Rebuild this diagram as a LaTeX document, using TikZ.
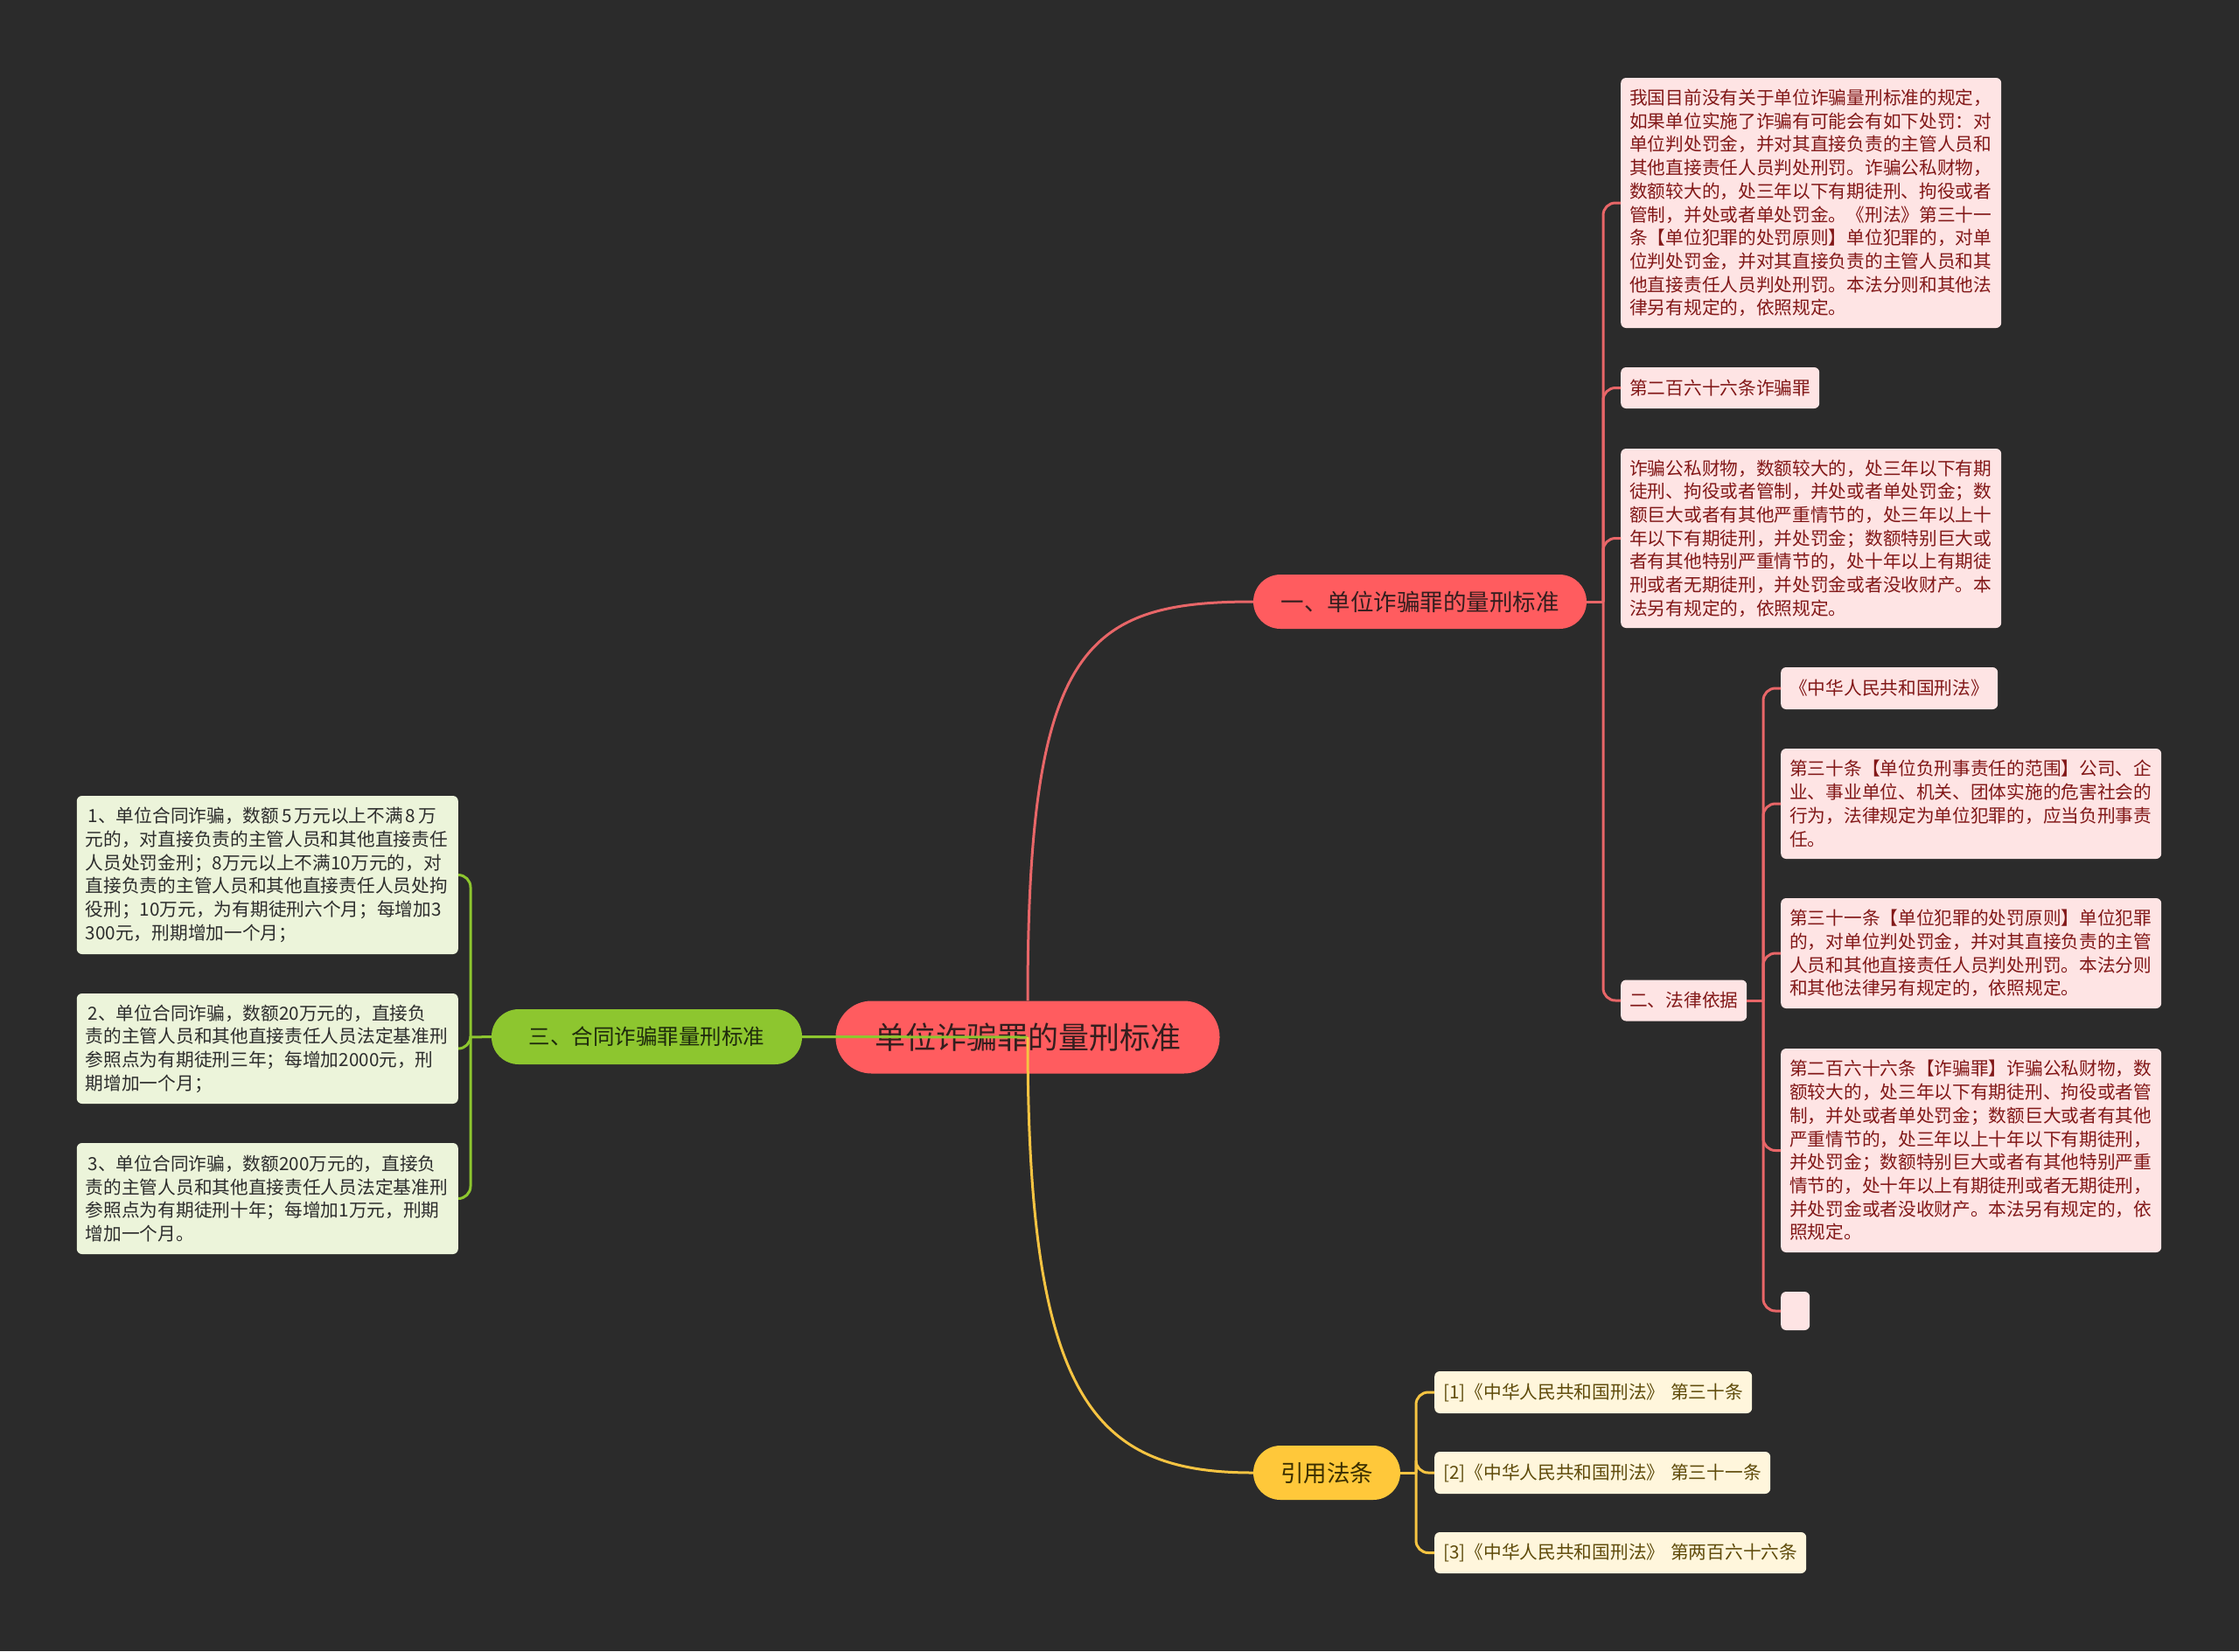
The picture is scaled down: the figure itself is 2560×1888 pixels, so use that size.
\documentclass[tikz,border=0pt]{standalone}
\usepackage{fontspec}
\setmainfont{Noto Sans CJK SC}
\definecolor{bgc}{RGB}{43,43,43}
\definecolor{redfill}{RGB}{255,92,95}
\definecolor{redline}{RGB}{232,102,104}
\definecolor{pinkleaf}{RGB}{254,228,228}
\definecolor{redtext}{RGB}{130,24,24}
\definecolor{darktext}{RGB}{52,30,30}
\definecolor{greenfill}{RGB}{141,198,47}
\definecolor{greenline}{RGB}{141,198,47}
\definecolor{greenleaf}{RGB}{236,244,218}
\definecolor{greentext}{RGB}{45,45,45}
\definecolor{greendark}{RGB}{30,42,12}
\definecolor{yellowfill}{RGB}{255,200,58}
\definecolor{yellowline}{RGB}{246,196,66}
\definecolor{yellowleaf}{RGB}{255,246,220}
\definecolor{yellowtext}{RGB}{95,75,10}
\definecolor{yellowdark}{RGB}{58,46,0}
\newcommand\lfont{\fontsize{20.7pt}{26.7pt}\selectfont}
\tikzset{
  leafbox/.style={anchor=west, rounded corners=6pt, inner xsep=10pt, inner ysep=0pt, align=left, font=\lfont},
  redleaf/.style={leafbox, fill=pinkleaf, text=redtext},
  greenleafbox/.style={leafbox, anchor=east, fill=greenleaf, text=greentext},
  yellowleafbox/.style={leafbox, fill=yellowleaf, text=yellowtext},
  topic/.style={inner sep=0pt, align=center},
  redln/.style={draw=redline, line width=3pt},
  greenln/.style={draw=greenline, line width=3pt},
  yellowln/.style={draw=yellowline, line width=3pt},
  brk/.style={rounded corners=14pt}
}
\begin{document}
\begin{tikzpicture}[x=1pt,y=-1pt]
\fill[bgc] (0,0) rectangle (2560,1888);
\useasboundingbox (0,0) rectangle (2560,1888);

% main topics
\node[topic, fill=redfill, text=darktext, minimum width=439pt, minimum height=83pt, rounded corners=41pt, font=\fontsize{35pt}{40pt}\selectfont] (c) at (1175,1186) {单位诈骗罪的量刑标准};
\node[topic, fill=redfill, text=darktext, minimum width=381pt, minimum height=62pt, rounded corners=31pt, font=\fontsize{26.5pt}{30pt}\selectfont] (n1) at (1623.5,688) {一、单位诈骗罪的量刑标准};
\node[topic, fill=greenfill, text=greendark, minimum width=355pt, minimum height=63pt, rounded corners=31pt, font=\fontsize{24.5pt}{30pt}\selectfont] (n3) at (739.5,1185.5) {三、合同诈骗罪量刑标准};
\node[topic, fill=yellowfill, text=yellowdark, minimum width=168pt, minimum height=62pt, rounded corners=31pt, font=\fontsize{26.5pt}{30pt}\selectfont] (ny) at (1517,1684) {引用法条};

% red branch leaves
\node[redleaf, text width=415pt, minimum height=286pt] (A) at (1853,232) {我国目前没有关于单位诈骗量刑标准的规定，\\如果单位实施了诈骗有可能会有如下处罚：对\\单位判处罚金，并对其直接负责的主管人员和\\其他直接责任人员判处刑罚。诈骗公私财物，\\数额较大的，处三年以下有期徒刑、拘役或者\\管制，并处或者单处罚金。《刑法》第三十一\\条【单位犯罪的处罚原则】单位犯罪的，对单\\位判处罚金，并对其直接负责的主管人员和其\\他直接责任人员判处刑罚。本法分则和其他法\\律另有规定的，依照规定。};
\node[redleaf, text width=207pt, minimum height=47pt] (B) at (1853,443.5) {第二百六十六条诈骗罪};
\node[redleaf, text width=415pt, minimum height=205pt] (C) at (1853,615.5) {诈骗公私财物，数额较大的，处三年以下有期\\徒刑、拘役或者管制，并处或者单处罚金；数\\额巨大或者有其他严重情节的，处三年以上十\\年以下有期徒刑，并处罚金；数额特别巨大或\\者有其他特别严重情节的，处十年以上有期徒\\刑或者无期徒刑，并处罚金或者没收财产。本\\法另有规定的，依照规定。};
\node[redleaf, text width=124pt, minimum height=47pt] (D) at (1853,1144) {二、法律依据};

\node[redleaf, text width=228pt, minimum height=48pt] (F) at (2036,787) {《中华人民共和国刑法》};
\node[redleaf, text width=415pt, minimum height=126pt] (G) at (2036,919) {第三十条【单位负刑事责任的范围】公司、企\\业、事业单位、机关、团体实施的危害社会的\\行为，法律规定为单位犯罪的，应当负刑事责\\任。};
\node[redleaf, text width=415pt, minimum height=126pt] (H) at (2036,1090) {第三十一条【单位犯罪的处罚原则】单位犯罪\\的，对单位判处罚金，并对其直接负责的主管\\人员和其他直接责任人员判处刑罚。本法分则\\和其他法律另有规定的，依照规定。};
\node[redleaf, text width=415pt, minimum height=233pt] (I) at (2036,1315.5) {第二百六十六条【诈骗罪】诈骗公私财物，数\\额较大的，处三年以下有期徒刑、拘役或者管\\制，并处或者单处罚金；数额巨大或者有其他\\严重情节的，处三年以上十年以下有期徒刑，\\并处罚金；数额特别巨大或者有其他特别严重\\情节的，处十年以上有期徒刑或者无期徒刑，\\并处罚金或者没收财产。本法另有规定的，依\\照规定。};
\node[redleaf, inner xsep=0pt, minimum width=33pt, minimum height=44pt] (J) at (2036,1499) {};

% green leaves
\node[greenleafbox, text width=416pt, minimum height=181pt] (G1) at (524,1000.5) {\hbox{\kern3pt 1、单位合同诈骗，数额\kern3pt 5\kern3pt 万元以上不满\kern3pt 8\kern3pt 万}\\元的，对直接负责的主管人员和其他直接责任\\人员处罚金刑；8万元以上不满10万元的，对\\直接负责的主管人员和其他直接责任人员处拘\\役刑；10万元，为有期徒刑六个月；每增加3\\300元，刑期增加一个月；};
\node[greenleafbox, text width=416pt, minimum height=126pt] (G2) at (524,1199) {\hbox{\kern3pt 2、单位合同诈骗，数额20万元的，直接负}\\责的主管人员和其他直接责任人员法定基准刑\\参照点为有期徒刑三年；每增加2000元，刑\\期增加一个月；};
\node[greenleafbox, text width=416pt, minimum height=127pt] (G3) at (524,1370.5) {\hbox{\kern3pt 3、单位合同诈骗，数额200万元的，直接负}\\责的主管人员和其他直接责任人员法定基准刑\\参照点为有期徒刑十年；每增加1万元，刑期\\增加一个月。};

% yellow leaves
\node[yellowleafbox, text width=343pt, minimum height=48pt] (Y1) at (1640,1592) {[1]《中华人民共和国刑法》 第三十条};
\node[yellowleafbox, text width=364pt, minimum height=48pt] (Y2) at (1640,1684) {[2]《中华人民共和国刑法》 第三十一条};
\node[yellowleafbox, text width=405pt, minimum height=47pt] (Y3) at (1640,1775.5) {[3]《中华人民共和国刑法》 第两百六十六条};

% junction points
\coordinate (t1) at (1833,688);
\coordinate (t2) at (2016,1144);
\coordinate (t3) at (538,1186);
\coordinate (t4) at (1619,1684);

% main connectors
\draw[redln] (c.north) .. controls (1175,740) and (1240,688) .. (n1.west);
\draw[greenln] (c.center) -- (n3.east);
\draw[yellowln] (c.center) .. controls (1175,1600) and (1250,1684) .. (ny.west);

% red brackets
\draw[redln] (n1.east) -- (t1);
\draw[redln, brk] (t1) |- (A.west);
\draw[redln, brk] (t1) |- (B.west);
\draw[redln, brk] (t1) |- (C.west);
\draw[redln, brk] (t1) |- (D.west);
\draw[redln] (D.east) -- (t2);
\draw[redln, brk] (t2) |- (F.west);
\draw[redln, brk] (t2) |- (G.west);
\draw[redln, brk] (t2) |- (H.west);
\draw[redln, brk] (t2) |- (I.west);
\draw[redln, brk] (t2) |- (J.west);

% green brackets
\draw[greenln] (n3.west) -- (t3);
\draw[greenln, brk] (t3) |- (G1.east);
\draw[greenln, brk] (t3) |- (G2.east);
\draw[greenln, brk] (t3) |- (G3.east);

% yellow brackets
\draw[yellowln] (ny.east) -- (t4);
\draw[yellowln, brk] (t4) |- (Y1.west);
\draw[yellowln, brk] (t4) |- (Y2.west);
\draw[yellowln, brk] (t4) |- (Y3.west);
\end{tikzpicture}
\end{document}
